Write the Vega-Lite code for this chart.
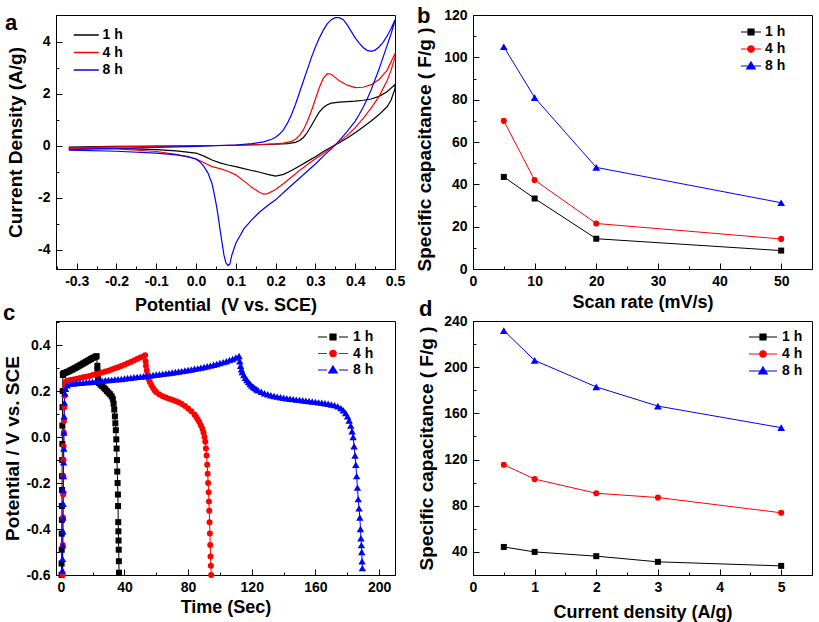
{
"$schema": "https://vega.github.io/schema/vega-lite/v6.json",
"autosize": {"type": "none"},
"padding": {"left": 56, "top": 15, "right": 763, "bottom": 607},
"background": "white",
"config": {
 "font": "Liberation Sans",
 "view": {"stroke": "#000000", "strokeWidth": 1},
 "axis": {"grid": false, "domainColor": "#000000", "domainWidth": 1, "tickColor": "#000000", "tickWidth": 1, "labelFont": "Liberation Sans", "labelFontWeight": "bold", "labelFontSize": 14, "labelColor": "#000000", "labelOverlap": false, "labelFlush": false, "titleFont": "Liberation Sans", "titleFontWeight": "bold", "titleColor": "#000000"},
 "axisX": {"titleFontSize": 18, "labelPadding": 11},
 "axisY": {"titleFontSize": 19, "labelPadding": 12},
 "legend": {"labelFont": "Liberation Sans", "labelFontWeight": "bold", "labelFontSize": 14, "labelColor": "#000000", "padding": 0, "orient": "none"},
 "title": {"font": "Liberation Sans", "fontWeight": "bold", "fontSize": 22, "color": "#000000", "anchor": "start", "frame": "group", "offset": 0, "baseline": "alphabetic"}
},
"datasets": {
 "cv": [
  {"s":"1 h","x":-0.32,"y":-0.05},{"s":"1 h","x":-0.25,"y":-0.03},{"s":"1 h","x":-0.2,"y":-0.02},{"s":"1 h","x":-0.1,"y":-0.01},{"s":"1 h","x":0,"y":0},{"s":"1 h","x":0.1,"y":0.02},{"s":"1 h","x":0.15,"y":0.04},{"s":"1 h","x":0.2,"y":0.06},{"s":"1 h","x":0.23,"y":0.08},{"s":"1 h","x":0.25,"y":0.13},{"s":"1 h","x":0.26,"y":0.2},{"s":"1 h","x":0.27,"y":0.32},{"s":"1 h","x":0.28,"y":0.52},{"s":"1 h","x":0.29,"y":0.78},{"s":"1 h","x":0.3,"y":1.05},{"s":"1 h","x":0.31,"y":1.3},{"s":"1 h","x":0.32,"y":1.47},{"s":"1 h","x":0.33,"y":1.58},{"s":"1 h","x":0.34,"y":1.64},{"s":"1 h","x":0.36,"y":1.68},{"s":"1 h","x":0.38,"y":1.7},{"s":"1 h","x":0.4,"y":1.72},{"s":"1 h","x":0.42,"y":1.75},{"s":"1 h","x":0.44,"y":1.8},{"s":"1 h","x":0.46,"y":1.9},{"s":"1 h","x":0.48,"y":2.08},{"s":"1 h","x":0.5,"y":2.35},
  {"s":"1 h","x":0.5,"y":2.2},{"s":"1 h","x":0.49,"y":1.75},{"s":"1 h","x":0.48,"y":1.5},{"s":"1 h","x":0.46,"y":1.2},{"s":"1 h","x":0.44,"y":0.95},{"s":"1 h","x":0.42,"y":0.72},{"s":"1 h","x":0.4,"y":0.5},{"s":"1 h","x":0.38,"y":0.3},{"s":"1 h","x":0.36,"y":0.12},{"s":"1 h","x":0.34,"y":-0.05},{"s":"1 h","x":0.32,"y":-0.22},{"s":"1 h","x":0.3,"y":-0.42},{"s":"1 h","x":0.28,"y":-0.6},{"s":"1 h","x":0.26,"y":-0.78},{"s":"1 h","x":0.24,"y":-0.95},{"s":"1 h","x":0.22,"y":-1.1},{"s":"1 h","x":0.2,"y":-1.17},{"s":"1 h","x":0.18,"y":-1.1},{"s":"1 h","x":0.16,"y":-1.02},{"s":"1 h","x":0.14,"y":-0.95},{"s":"1 h","x":0.12,"y":-0.88},{"s":"1 h","x":0.1,"y":-0.8},{"s":"1 h","x":0.08,"y":-0.74},{"s":"1 h","x":0.06,"y":-0.66},{"s":"1 h","x":0.04,"y":-0.55},{"s":"1 h","x":0.02,"y":-0.4},{"s":"1 h","x":0,"y":-0.28},{"s":"1 h","x":-0.05,"y":-0.2},{"s":"1 h","x":-0.1,"y":-0.15},{"s":"1 h","x":-0.2,"y":-0.1},{"s":"1 h","x":-0.32,"y":-0.08},
  {"s":"4 h","x":-0.32,"y":-0.08},{"s":"4 h","x":-0.25,"y":-0.05},{"s":"4 h","x":-0.2,"y":-0.04},{"s":"4 h","x":-0.1,"y":-0.02},{"s":"4 h","x":0,"y":0},{"s":"4 h","x":0.1,"y":0.02},{"s":"4 h","x":0.15,"y":0.04},{"s":"4 h","x":0.2,"y":0.07},{"s":"4 h","x":0.22,"y":0.1},{"s":"4 h","x":0.24,"y":0.17},{"s":"4 h","x":0.25,"y":0.25},{"s":"4 h","x":0.26,"y":0.4},{"s":"4 h","x":0.27,"y":0.62},{"s":"4 h","x":0.28,"y":0.95},{"s":"4 h","x":0.29,"y":1.35},{"s":"4 h","x":0.3,"y":1.8},{"s":"4 h","x":0.31,"y":2.25},{"s":"4 h","x":0.32,"y":2.6},{"s":"4 h","x":0.33,"y":2.77},{"s":"4 h","x":0.34,"y":2.75},{"s":"4 h","x":0.35,"y":2.62},{"s":"4 h","x":0.36,"y":2.5},{"s":"4 h","x":0.38,"y":2.33},{"s":"4 h","x":0.4,"y":2.24},{"s":"4 h","x":0.42,"y":2.25},{"s":"4 h","x":0.44,"y":2.35},{"s":"4 h","x":0.46,"y":2.55},{"s":"4 h","x":0.48,"y":2.9},{"s":"4 h","x":0.5,"y":3.55},
  {"s":"4 h","x":0.5,"y":3.4},{"s":"4 h","x":0.49,"y":2.9},{"s":"4 h","x":0.48,"y":2.5},{"s":"4 h","x":0.46,"y":1.9},{"s":"4 h","x":0.44,"y":1.45},{"s":"4 h","x":0.42,"y":1.05},{"s":"4 h","x":0.4,"y":0.7},{"s":"4 h","x":0.38,"y":0.4},{"s":"4 h","x":0.36,"y":0.15},{"s":"4 h","x":0.34,"y":-0.08},{"s":"4 h","x":0.32,"y":-0.3},{"s":"4 h","x":0.3,"y":-0.5},{"s":"4 h","x":0.28,"y":-0.72},{"s":"4 h","x":0.26,"y":-0.95},{"s":"4 h","x":0.24,"y":-1.2},{"s":"4 h","x":0.22,"y":-1.45},{"s":"4 h","x":0.2,"y":-1.68},{"s":"4 h","x":0.18,"y":-1.84},{"s":"4 h","x":0.17,"y":-1.86},{"s":"4 h","x":0.16,"y":-1.8},{"s":"4 h","x":0.14,"y":-1.6},{"s":"4 h","x":0.12,"y":-1.35},{"s":"4 h","x":0.1,"y":-1.12},{"s":"4 h","x":0.08,"y":-0.98},{"s":"4 h","x":0.06,"y":-0.88},{"s":"4 h","x":0.04,"y":-0.8},{"s":"4 h","x":0.02,"y":-0.65},{"s":"4 h","x":0,"y":-0.5},{"s":"4 h","x":-0.05,"y":-0.33},{"s":"4 h","x":-0.1,"y":-0.22},{"s":"4 h","x":-0.2,"y":-0.12},{"s":"4 h","x":-0.32,"y":-0.1},
  {"s":"8 h","x":-0.32,"y":-0.15},{"s":"8 h","x":-0.25,"y":-0.12},{"s":"8 h","x":-0.2,"y":-0.1},{"s":"8 h","x":-0.1,"y":-0.06},{"s":"8 h","x":0,"y":-0.02},{"s":"8 h","x":0.05,"y":0},{"s":"8 h","x":0.1,"y":0.03},{"s":"8 h","x":0.14,"y":0.08},{"s":"8 h","x":0.17,"y":0.15},{"s":"8 h","x":0.19,"y":0.25},{"s":"8 h","x":0.2,"y":0.33},{"s":"8 h","x":0.21,"y":0.45},{"s":"8 h","x":0.22,"y":0.62},{"s":"8 h","x":0.23,"y":0.88},{"s":"8 h","x":0.24,"y":1.2},{"s":"8 h","x":0.25,"y":1.6},{"s":"8 h","x":0.26,"y":2.05},{"s":"8 h","x":0.27,"y":2.5},{"s":"8 h","x":0.28,"y":2.95},{"s":"8 h","x":0.29,"y":3.4},{"s":"8 h","x":0.3,"y":3.8},{"s":"8 h","x":0.31,"y":4.15},{"s":"8 h","x":0.32,"y":4.45},{"s":"8 h","x":0.33,"y":4.7},{"s":"8 h","x":0.34,"y":4.85},{"s":"8 h","x":0.35,"y":4.93},{"s":"8 h","x":0.36,"y":4.93},{"s":"8 h","x":0.37,"y":4.85},{"s":"8 h","x":0.38,"y":4.65},{"s":"8 h","x":0.39,"y":4.4},{"s":"8 h","x":0.4,"y":4.15},{"s":"8 h","x":0.41,"y":3.95},{"s":"8 h","x":0.42,"y":3.78},{"s":"8 h","x":0.43,"y":3.67},{"s":"8 h","x":0.44,"y":3.63},{"s":"8 h","x":0.45,"y":3.68},{"s":"8 h","x":0.46,"y":3.8},{"s":"8 h","x":0.47,"y":3.98},{"s":"8 h","x":0.48,"y":4.22},{"s":"8 h","x":0.49,"y":4.5},{"s":"8 h","x":0.5,"y":4.85},
  {"s":"8 h","x":0.5,"y":4.8},{"s":"8 h","x":0.49,"y":4.3},{"s":"8 h","x":0.48,"y":3.85},{"s":"8 h","x":0.47,"y":3.4},{"s":"8 h","x":0.46,"y":2.95},{"s":"8 h","x":0.45,"y":2.55},{"s":"8 h","x":0.44,"y":2.15},{"s":"8 h","x":0.43,"y":1.8},{"s":"8 h","x":0.42,"y":1.48},{"s":"8 h","x":0.41,"y":1.2},{"s":"8 h","x":0.4,"y":0.95},{"s":"8 h","x":0.38,"y":0.55},{"s":"8 h","x":0.36,"y":0.2},{"s":"8 h","x":0.34,"y":-0.12},{"s":"8 h","x":0.32,"y":-0.4},{"s":"8 h","x":0.3,"y":-0.7},{"s":"8 h","x":0.28,"y":-0.97},{"s":"8 h","x":0.26,"y":-1.25},{"s":"8 h","x":0.24,"y":-1.52},{"s":"8 h","x":0.22,"y":-1.8},{"s":"8 h","x":0.2,"y":-2.08},{"s":"8 h","x":0.18,"y":-2.3},{"s":"8 h","x":0.16,"y":-2.55},{"s":"8 h","x":0.14,"y":-2.85},{"s":"8 h","x":0.12,"y":-3.2},{"s":"8 h","x":0.1,"y":-3.75},{"s":"8 h","x":0.09,"y":-4.2},{"s":"8 h","x":0.085,"y":-4.55},{"s":"8 h","x":0.08,"y":-4.6},{"s":"8 h","x":0.075,"y":-4.5},{"s":"8 h","x":0.07,"y":-4.2},{"s":"8 h","x":0.065,"y":-3.7},{"s":"8 h","x":0.06,"y":-3.2},{"s":"8 h","x":0.055,"y":-2.65},{"s":"8 h","x":0.05,"y":-2.2},{"s":"8 h","x":0.045,"y":-1.8},{"s":"8 h","x":0.04,"y":-1.45},{"s":"8 h","x":0.03,"y":-1.05},{"s":"8 h","x":0.02,"y":-0.8},{"s":"8 h","x":0.01,"y":-0.62},{"s":"8 h","x":0,"y":-0.52},{"s":"8 h","x":-0.02,"y":-0.42},{"s":"8 h","x":-0.05,"y":-0.35},{"s":"8 h","x":-0.1,"y":-0.28},{"s":"8 h","x":-0.2,"y":-0.21},{"s":"8 h","x":-0.32,"y":-0.17}
 ],
 "sb": [
  {"s":"1 h","x":5,"y":43.5},{"s":"1 h","x":10,"y":33.3},{"s":"1 h","x":20,"y":14.3},{"s":"1 h","x":50,"y":8.7},
  {"s":"4 h","x":5,"y":70},{"s":"4 h","x":10,"y":42},{"s":"4 h","x":20,"y":21.5},{"s":"4 h","x":50,"y":14.2},
  {"s":"8 h","x":5,"y":105},{"s":"8 h","x":10,"y":81},{"s":"8 h","x":20,"y":48},{"s":"8 h","x":50,"y":31.3}
 ],
 "sd": [
  {"s":"1 h","x":0.5,"y":44.3},{"s":"1 h","x":1,"y":40},{"s":"1 h","x":2,"y":36.3},{"s":"1 h","x":3,"y":31.4},{"s":"1 h","x":5,"y":27.9},
  {"s":"4 h","x":0.5,"y":115.5},{"s":"4 h","x":1,"y":103.1},{"s":"4 h","x":2,"y":90.8},{"s":"4 h","x":3,"y":87.1},{"s":"4 h","x":5,"y":73.9},
  {"s":"8 h","x":0.5,"y":231.7},{"s":"8 h","x":1,"y":205.9},{"s":"8 h","x":2,"y":182.9},{"s":"8 h","x":3,"y":166.3},{"s":"8 h","x":5,"y":147.6}
 ],
 "gcd": [
  {"s":"1 h","x":0.5,"y":-0.6},{"s":"1 h","x":0.5,"y":-0.55},{"s":"1 h","x":0.6,"y":-0.49},{"s":"1 h","x":0.6,"y":-0.42},{"s":"1 h","x":0.7,"y":-0.36},{"s":"1 h","x":0.7,"y":-0.3},{"s":"1 h","x":0.8,"y":-0.23},{"s":"1 h","x":0.8,"y":-0.17},{"s":"1 h","x":0.9,"y":-0.1},{"s":"1 h","x":1.0,"y":-0.03},{"s":"1 h","x":1.0,"y":0.05},{"s":"1 h","x":1.1,"y":0.13},{"s":"1 h","x":1.2,"y":0.2},{"s":"1 h","x":1.3,"y":0.27},
  {"s":"1 h","x":1.5,"y":0.275},{"s":"1 h","x":2,"y":0.278},{"s":"1 h","x":3,"y":0.28},{"s":"1 h","x":4,"y":0.283},{"s":"1 h","x":5,"y":0.286},{"s":"1 h","x":6,"y":0.29},{"s":"1 h","x":7,"y":0.293},{"s":"1 h","x":8,"y":0.297},{"s":"1 h","x":9,"y":0.3},{"s":"1 h","x":10,"y":0.304},{"s":"1 h","x":11,"y":0.308},{"s":"1 h","x":12,"y":0.312},{"s":"1 h","x":13,"y":0.316},{"s":"1 h","x":14,"y":0.32},{"s":"1 h","x":15,"y":0.324},{"s":"1 h","x":16,"y":0.328},{"s":"1 h","x":17,"y":0.332},{"s":"1 h","x":18,"y":0.336},{"s":"1 h","x":19,"y":0.34},{"s":"1 h","x":20,"y":0.344},{"s":"1 h","x":21,"y":0.347},{"s":"1 h","x":22,"y":0.35},{"s":"1 h","x":22.5,"y":0.352},
  {"s":"1 h","x":23,"y":0.31},{"s":"1 h","x":23,"y":0.29},{"s":"1 h","x":23.2,"y":0.27},{"s":"1 h","x":23.5,"y":0.25},
  {"s":"1 h","x":24,"y":0.235},{"s":"1 h","x":25,"y":0.228},{"s":"1 h","x":26,"y":0.222},{"s":"1 h","x":27,"y":0.215},{"s":"1 h","x":28,"y":0.208},{"s":"1 h","x":29,"y":0.2},{"s":"1 h","x":30,"y":0.193},{"s":"1 h","x":31,"y":0.186},{"s":"1 h","x":32,"y":0.177},{"s":"1 h","x":32.7,"y":0.165},{"s":"1 h","x":33.2,"y":0.145},{"s":"1 h","x":33.6,"y":0.12},{"s":"1 h","x":34,"y":0.09},{"s":"1 h","x":34.3,"y":0.06},{"s":"1 h","x":34.6,"y":0.03},{"s":"1 h","x":34.9,"y":-0.01},{"s":"1 h","x":35.1,"y":-0.05},{"s":"1 h","x":35.3,"y":-0.1},{"s":"1 h","x":35.5,"y":-0.15},{"s":"1 h","x":35.7,"y":-0.2},{"s":"1 h","x":35.9,"y":-0.25},{"s":"1 h","x":36.0,"y":-0.3},{"s":"1 h","x":36.1,"y":-0.37},{"s":"1 h","x":36.2,"y":-0.41},{"s":"1 h","x":36.3,"y":-0.45},{"s":"1 h","x":36.4,"y":-0.49},{"s":"1 h","x":36.5,"y":-0.54},{"s":"1 h","x":36.6,"y":-0.59},
  {"s":"4 h","x":1.2,"y":-0.6},{"s":"4 h","x":1.3,"y":-0.47},{"s":"4 h","x":1.4,"y":-0.35},{"s":"4 h","x":1.5,"y":-0.25},{"s":"4 h","x":1.6,"y":-0.17},{"s":"4 h","x":1.7,"y":-0.1},{"s":"4 h","x":1.8,"y":-0.04},{"s":"4 h","x":1.9,"y":0.02},{"s":"4 h","x":2.0,"y":0.07},{"s":"4 h","x":2.2,"y":0.13},{"s":"4 h","x":2.4,"y":0.18},{"s":"4 h","x":2.7,"y":0.22},{"s":"4 h","x":3,"y":0.24},
  {"s":"4 h","x":4,"y":0.245},{"s":"4 h","x":6,"y":0.248},{"s":"4 h","x":8,"y":0.251},{"s":"4 h","x":10,"y":0.254},{"s":"4 h","x":12,"y":0.257},{"s":"4 h","x":14,"y":0.26},{"s":"4 h","x":16,"y":0.263},{"s":"4 h","x":18,"y":0.266},{"s":"4 h","x":20,"y":0.27},{"s":"4 h","x":22,"y":0.273},{"s":"4 h","x":24,"y":0.277},{"s":"4 h","x":26,"y":0.281},{"s":"4 h","x":28,"y":0.285},{"s":"4 h","x":30,"y":0.289},{"s":"4 h","x":32,"y":0.294},{"s":"4 h","x":34,"y":0.299},{"s":"4 h","x":36,"y":0.304},{"s":"4 h","x":38,"y":0.309},{"s":"4 h","x":40,"y":0.315},{"s":"4 h","x":42,"y":0.321},{"s":"4 h","x":44,"y":0.327},{"s":"4 h","x":46,"y":0.333},{"s":"4 h","x":48,"y":0.34},{"s":"4 h","x":50,"y":0.346},{"s":"4 h","x":52,"y":0.352},{"s":"4 h","x":53,"y":0.356},
  {"s":"4 h","x":53.3,"y":0.33},{"s":"4 h","x":53.5,"y":0.31},{"s":"4 h","x":54,"y":0.29},{"s":"4 h","x":54.5,"y":0.27},{"s":"4 h","x":55,"y":0.255},{"s":"4 h","x":56,"y":0.24},{"s":"4 h","x":57,"y":0.225},{"s":"4 h","x":58,"y":0.213},{"s":"4 h","x":59,"y":0.203},{"s":"4 h","x":60,"y":0.195},{"s":"4 h","x":62,"y":0.185},{"s":"4 h","x":64,"y":0.178},{"s":"4 h","x":66,"y":0.172},{"s":"4 h","x":68,"y":0.167},{"s":"4 h","x":70,"y":0.162},{"s":"4 h","x":72,"y":0.157},{"s":"4 h","x":74,"y":0.151},{"s":"4 h","x":76,"y":0.144},{"s":"4 h","x":78,"y":0.135},{"s":"4 h","x":80,"y":0.124},{"s":"4 h","x":82,"y":0.112},{"s":"4 h","x":84,"y":0.098},{"s":"4 h","x":85,"y":0.088},{"s":"4 h","x":86,"y":0.078},{"s":"4 h","x":87,"y":0.066},{"s":"4 h","x":88,"y":0.052},{"s":"4 h","x":89,"y":0.036},{"s":"4 h","x":89.7,"y":0.02},{"s":"4 h","x":90.3,"y":0.0},{"s":"4 h","x":90.8,"y":-0.02},{"s":"4 h","x":91.2,"y":-0.05},{"s":"4 h","x":91.6,"y":-0.08},{"s":"4 h","x":92,"y":-0.12},{"s":"4 h","x":92.3,"y":-0.16},{"s":"4 h","x":92.6,"y":-0.2},{"s":"4 h","x":92.9,"y":-0.24},{"s":"4 h","x":93.1,"y":-0.28},{"s":"4 h","x":93.3,"y":-0.32},{"s":"4 h","x":93.5,"y":-0.37},{"s":"4 h","x":93.7,"y":-0.42},{"s":"4 h","x":93.9,"y":-0.47},{"s":"4 h","x":94.1,"y":-0.52},{"s":"4 h","x":94.3,"y":-0.56},{"s":"4 h","x":94.5,"y":-0.6},
  {"s":"8 h","x":1,"y":-0.58},{"s":"8 h","x":1.1,"y":-0.53},{"s":"8 h","x":1.2,"y":-0.47},{"s":"8 h","x":1.3,"y":-0.41},{"s":"8 h","x":1.4,"y":-0.35},{"s":"8 h","x":1.5,"y":-0.29},{"s":"8 h","x":1.6,"y":-0.23},{"s":"8 h","x":1.7,"y":-0.17},{"s":"8 h","x":1.8,"y":-0.11},{"s":"8 h","x":1.9,"y":-0.05},{"s":"8 h","x":2.0,"y":0.02},{"s":"8 h","x":2.1,"y":0.09},{"s":"8 h","x":2.3,"y":0.15},{"s":"8 h","x":2.6,"y":0.19},{"s":"8 h","x":3,"y":0.21},{"s":"8 h","x":4,"y":0.225},
  {"s":"8 h","x":6,"y":0.232},{"s":"8 h","x":8,"y":0.233},{"s":"8 h","x":10,"y":0.235},{"s":"8 h","x":12,"y":0.236},{"s":"8 h","x":14,"y":0.237},{"s":"8 h","x":16,"y":0.239},{"s":"8 h","x":18,"y":0.24},{"s":"8 h","x":20,"y":0.241},{"s":"8 h","x":22,"y":0.243},{"s":"8 h","x":24,"y":0.244},{"s":"8 h","x":26,"y":0.245},{"s":"8 h","x":28,"y":0.247},{"s":"8 h","x":30,"y":0.248},{"s":"8 h","x":32,"y":0.249},{"s":"8 h","x":34,"y":0.251},{"s":"8 h","x":36,"y":0.252},{"s":"8 h","x":38,"y":0.253},{"s":"8 h","x":40,"y":0.255},{"s":"8 h","x":42,"y":0.257},{"s":"8 h","x":44,"y":0.258},{"s":"8 h","x":46,"y":0.26},{"s":"8 h","x":48,"y":0.262},{"s":"8 h","x":50,"y":0.263},{"s":"8 h","x":52,"y":0.265},{"s":"8 h","x":54,"y":0.267},{"s":"8 h","x":56,"y":0.268},{"s":"8 h","x":58,"y":0.27},{"s":"8 h","x":60,"y":0.272},{"s":"8 h","x":62,"y":0.273},{"s":"8 h","x":64,"y":0.275},{"s":"8 h","x":66,"y":0.277},{"s":"8 h","x":68,"y":0.279},{"s":"8 h","x":70,"y":0.281},{"s":"8 h","x":72,"y":0.283},{"s":"8 h","x":74,"y":0.285},{"s":"8 h","x":76,"y":0.287},{"s":"8 h","x":78,"y":0.29},{"s":"8 h","x":80,"y":0.292},{"s":"8 h","x":82,"y":0.294},{"s":"8 h","x":84,"y":0.297},{"s":"8 h","x":86,"y":0.299},{"s":"8 h","x":88,"y":0.302},{"s":"8 h","x":90,"y":0.305},{"s":"8 h","x":92,"y":0.308},{"s":"8 h","x":94,"y":0.311},{"s":"8 h","x":96,"y":0.315},{"s":"8 h","x":98,"y":0.318},{"s":"8 h","x":100,"y":0.322},{"s":"8 h","x":102,"y":0.326},{"s":"8 h","x":104,"y":0.33},{"s":"8 h","x":106,"y":0.335},{"s":"8 h","x":108,"y":0.34},{"s":"8 h","x":110,"y":0.346},{"s":"8 h","x":112,"y":0.353},
  {"s":"8 h","x":112.5,"y":0.33},{"s":"8 h","x":113,"y":0.31},{"s":"8 h","x":113.5,"y":0.295},{"s":"8 h","x":114,"y":0.283},{"s":"8 h","x":115,"y":0.27},{"s":"8 h","x":116,"y":0.258},{"s":"8 h","x":117,"y":0.248},{"s":"8 h","x":118,"y":0.239},{"s":"8 h","x":119,"y":0.231},{"s":"8 h","x":120,"y":0.224},{"s":"8 h","x":121,"y":0.218},{"s":"8 h","x":122,"y":0.213},{"s":"8 h","x":123,"y":0.208},{"s":"8 h","x":124,"y":0.204},{"s":"8 h","x":126,"y":0.197},{"s":"8 h","x":128,"y":0.191},{"s":"8 h","x":130,"y":0.186},{"s":"8 h","x":132,"y":0.182},{"s":"8 h","x":134,"y":0.179},{"s":"8 h","x":136,"y":0.176},{"s":"8 h","x":138,"y":0.173},{"s":"8 h","x":140,"y":0.171},{"s":"8 h","x":142,"y":0.169},{"s":"8 h","x":144,"y":0.167},{"s":"8 h","x":146,"y":0.165},{"s":"8 h","x":148,"y":0.163},{"s":"8 h","x":150,"y":0.162},{"s":"8 h","x":152,"y":0.16},{"s":"8 h","x":154,"y":0.158},{"s":"8 h","x":156,"y":0.157},{"s":"8 h","x":158,"y":0.155},{"s":"8 h","x":160,"y":0.153},{"s":"8 h","x":162,"y":0.151},{"s":"8 h","x":164,"y":0.149},{"s":"8 h","x":166,"y":0.147},{"s":"8 h","x":168,"y":0.145},{"s":"8 h","x":170,"y":0.142},{"s":"8 h","x":172,"y":0.139},{"s":"8 h","x":174,"y":0.134},{"s":"8 h","x":176,"y":0.126},{"s":"8 h","x":177.5,"y":0.117},{"s":"8 h","x":179,"y":0.105},{"s":"8 h","x":180.2,"y":0.09},{"s":"8 h","x":181.2,"y":0.072},{"s":"8 h","x":182.2,"y":0.05},{"s":"8 h","x":183,"y":0.025},{"s":"8 h","x":183.7,"y":0},{"s":"8 h","x":184.3,"y":-0.04},{"s":"8 h","x":184.9,"y":-0.08},{"s":"8 h","x":185.4,"y":-0.12},{"s":"8 h","x":185.9,"y":-0.17},{"s":"8 h","x":186.4,"y":-0.22},{"s":"8 h","x":186.9,"y":-0.27},{"s":"8 h","x":187.4,"y":-0.31},{"s":"8 h","x":187.9,"y":-0.35},{"s":"8 h","x":188.3,"y":-0.4},{"s":"8 h","x":188.6,"y":-0.44},{"s":"8 h","x":188.9,"y":-0.47},{"s":"8 h","x":189.1,"y":-0.5},{"s":"8 h","x":189.3,"y":-0.54},{"s":"8 h","x":189.5,"y":-0.57}
 ]
},
"columns": 2,
"bounds": "flush",
"spacing": {"row": 52, "column": 78},
"resolve": {"scale": {"color": "independent"}, "legend": {"color": "independent"}},
"concat": [
 {
  "width": 339, "height": 254,
  "title": {"text": "a", "dx": -51, "dy": 24},
  "data": {"name": "cv"},
  "mark": {"type": "line", "strokeWidth": 1.2},
  "encoding": {
   "x": {"field": "x", "type": "quantitative", "scale": {"domain": [-0.352, 0.5], "nice": false, "zero": false},
     "axis": {"title": "Potential\u00a0 (V vs. SCE)", "titlePadding": 5,
       "values": [-0.35,-0.3,-0.25,-0.2,-0.15,-0.1,-0.05,0,0.05,0.1,0.15,0.2,0.25,0.3,0.35,0.4,0.45,0.5],
       "labelExpr": "abs(round(datum.value*100))%10===0 ? replace(format(datum.value,'.1f'),'\u2212','-') : ''",
       "tickSize": {"condition": {"test": "abs(round(datum.value*100))%10===0", "value": -6}, "value": -3}}},
   "y": {"field": "y", "type": "quantitative", "scale": {"domain": [-4.74, 5.03], "nice": false, "zero": false},
     "axis": {"title": "Current Density (A/g)", "titlePadding": 12,
       "values": [-4,-3,-2,-1,0,1,2,3,4],
       "labelExpr": "abs(datum.value)%2===0 ? replace(format(datum.value,'d'),'\u2212','-') : ''",
       "tickSize": {"condition": {"test": "abs(datum.value)%2===0", "value": -6}, "value": -3}}},
   "order": {"value": null},
   "color": {"field": "s", "type": "nominal", "scale": {"domain": ["1 h","4 h","8 h"], "range": ["#000000","#ff0000","#0000ff"]},
     "legend": {"title": null, "orient": "none", "legendX": 23.25, "legendY": 13, "symbolType": "M-2,0H2", "symbolSize": 156.25, "symbolStrokeWidth": 1.5, "labelOffset": 9.25, "rowPadding": 3.5}}
  }
 },
 {
  "width": 339, "height": 254,
  "title": {"text": "b", "dx": -56, "dy": 24},
  "data": {"name": "sb"},
  "encoding": {
   "x": {"field": "x", "type": "quantitative", "scale": {"domain": [0, 55], "nice": false},
     "axis": {"title": "Scan rate (mV/s)", "titlePadding": 2,
       "values": [0,5,10,15,20,25,30,35,40,45,50],
       "labelExpr": "datum.value%10===0 ? format(datum.value,'d') : ''",
       "tickSize": {"condition": {"test": "datum.value%10===0", "value": -6}, "value": -3}}},
   "y": {"field": "y", "type": "quantitative", "scale": {"domain": [0, 120], "nice": false},
     "axis": {"title": "Specific capacitance ( F/g )", "titlePadding": 9, "titleY": 134,
       "values": [0,10,20,30,40,50,60,70,80,90,100,110,120],
       "labelExpr": "datum.value%20===0 ? format(datum.value,'d') : ''",
       "tickSize": {"condition": {"test": "datum.value%20===0", "value": -6}, "value": -3}}},
   "color": {"field": "s", "type": "nominal", "scale": {"domain": ["1 h","4 h","8 h"], "range": ["#000000","#ff0000","#0000ff"]},
     "legend": {"title": null, "orient": "none", "legendX": 271, "legendY": 10, "symbolSize": 100, "labelOffset": 7, "rowPadding": 3,
       "encode": {"symbols": {"update": {
         "shape": {"signal": "datum.value==='1 h' ? 'M-2,0H2M-0.6,-0.6H0.6V0.6H-0.6Z' : datum.value==='4 h' ? 'M-2,0H2M0.65,0A0.65,0.65,0,1,1,-0.65,0A0.65,0.65,0,1,1,0.65,0Z' : 'M-2,0H2M0,-0.8L0.85,0.6L-0.85,0.6Z'"},
         "stroke": {"signal": "datum.value==='1 h' ? '#000000' : datum.value==='4 h' ? '#ff0000' : '#0000ff'"},
         "fill": {"signal": "datum.value==='1 h' ? '#000000' : datum.value==='4 h' ? '#ff0000' : '#0000ff'"},
         "strokeWidth": {"value": 1.2}, "opacity": {"value": 1}}}}}}
  },
  "layer": [
   {"mark": {"type": "line", "strokeWidth": 1}},
   {"transform": [{"filter": "datum.s === '1 h'"}], "mark": {"type": "point", "shape": "square", "filled": true, "opacity": 1, "size": 36}},
   {"transform": [{"filter": "datum.s === '4 h'"}], "mark": {"type": "point", "shape": "circle", "filled": true, "opacity": 1, "size": 38}},
   {"transform": [{"filter": "datum.s === '8 h'"}], "mark": {"type": "point", "shape": "triangle-up", "filled": true, "opacity": 1, "size": 60}}
  ]
 },
 {
  "width": 339, "height": 254,
  "title": {"text": "c", "dx": -53, "dy": 14},
  "data": {"name": "gcd"},
  "encoding": {
   "x": {"field": "x", "type": "quantitative", "scale": {"domain": [-3, 210], "nice": false, "zero": false},
     "axis": {"title": "Time (Sec)", "titlePadding": 1,
       "values": [0,20,40,60,80,100,120,140,160,180,200],
       "labelExpr": "datum.value%40===0 ? format(datum.value,'d') : ''",
       "tickSize": {"condition": {"test": "datum.value%40===0", "value": -6}, "value": -3}}},
   "y": {"field": "y", "type": "quantitative", "scale": {"domain": [-0.6, 0.505], "nice": false, "zero": false},
     "axis": {"title": "Potential / V vs. SCE", "titlePadding": 3,
       "values": [-0.6,-0.5,-0.4,-0.3,-0.2,-0.1,0,0.1,0.2,0.3,0.4,0.5],
       "labelExpr": "abs(round(datum.value*10))%2===0 && datum.value < 0.45 ? replace(format(datum.value,'.1f'),'\u2212','-') : ''",
       "tickSize": {"condition": {"test": "abs(round(datum.value*10))%2===0", "value": -6}, "value": -3}}},
   "color": {"field": "s", "type": "nominal", "scale": {"domain": ["1 h","4 h","8 h"], "range": ["#000000","#ff0000","#0000ff"]},
     "legend": {"title": null, "orient": "none", "legendX": 270, "legendY": 9, "symbolSize": 100, "labelOffset": 13, "rowPadding": 2.5,
       "encode": {"symbols": {"update": {
         "shape": {"signal": "datum.value==='1 h' ? 'M-3,0H-1.2M1.2,0H3M-0.6,-0.6H0.6V0.6H-0.6Z' : datum.value==='4 h' ? 'M-3,0H-1.2M1.2,0H3M0.65,0A0.65,0.65,0,1,1,-0.65,0A0.65,0.65,0,1,1,0.65,0Z' : 'M-3,0H-1.2M1.2,0H3M0,-0.8L0.85,0.6L-0.85,0.6Z'"},
         "stroke": {"signal": "datum.value==='1 h' ? '#000000' : datum.value==='4 h' ? '#ff0000' : '#0000ff'"},
         "fill": {"signal": "datum.value==='1 h' ? '#000000' : datum.value==='4 h' ? '#ff0000' : '#0000ff'"},
         "strokeWidth": {"value": 1.2}, "opacity": {"value": 1}}}}}},
   "order": {"value": null}
  },
  "layer": [
   {"mark": {"type": "line", "strokeWidth": 1}},
   {"transform": [{"filter": "datum.s === '1 h'"}], "mark": {"type": "point", "shape": "square", "filled": true, "opacity": 1, "size": 36}},
   {"transform": [{"filter": "datum.s === '4 h'"}], "mark": {"type": "point", "shape": "circle", "filled": true, "opacity": 1, "size": 36}},
   {"transform": [{"filter": "datum.s === '8 h'"}], "mark": {"type": "point", "shape": "triangle-up", "filled": true, "opacity": 1, "size": 55}}
  ]
 },
 {
  "width": 339, "height": 254,
  "title": {"text": "d", "dx": -54, "dy": 11},
  "data": {"name": "sd"},
  "encoding": {
   "x": {"field": "x", "type": "quantitative", "scale": {"domain": [0, 5.5], "nice": false},
     "axis": {"title": "Current density (A/g)", "titlePadding": 6,
       "values": [0,0.5,1,1.5,2,2.5,3,3.5,4,4.5,5],
       "labelExpr": "round(datum.value*10)%10===0 ? format(datum.value,'d') : ''",
       "tickSize": {"condition": {"test": "round(datum.value*10)%10===0", "value": -6}, "value": -3}}},
   "y": {"field": "y", "type": "quantitative", "scale": {"domain": [20, 240], "nice": false, "zero": false},
     "axis": {"title": "Specific capacitance ( F/g )", "titlePadding": 7,
       "values": [40,60,80,100,120,140,160,180,200,220,240],
       "labelExpr": "datum.value%40===0 ? format(datum.value,'d') : ''",
       "tickSize": {"condition": {"test": "datum.value%40===0", "value": -6}, "value": -3}}},
   "color": {"field": "s", "type": "nominal", "scale": {"domain": ["1 h","4 h","8 h"], "range": ["#000000","#ff0000","#0000ff"]},
     "legend": {"title": null, "orient": "none", "legendX": 283, "legendY": 9, "symbolSize": 100, "labelOffset": 12, "rowPadding": 3,
       "encode": {"symbols": {"update": {
         "shape": {"signal": "datum.value==='1 h' ? 'M-2.8,0H2.8M-0.6,-0.6H0.6V0.6H-0.6Z' : datum.value==='4 h' ? 'M-2.8,0H2.8M0.65,0A0.65,0.65,0,1,1,-0.65,0A0.65,0.65,0,1,1,0.65,0Z' : 'M-2.8,0H2.8M0,-0.8L0.85,0.6L-0.85,0.6Z'"},
         "stroke": {"signal": "datum.value==='1 h' ? '#000000' : datum.value==='4 h' ? '#ff0000' : '#0000ff'"},
         "fill": {"signal": "datum.value==='1 h' ? '#000000' : datum.value==='4 h' ? '#ff0000' : '#0000ff'"},
         "strokeWidth": {"value": 1.2}, "opacity": {"value": 1}}}}}}
  },
  "layer": [
   {"mark": {"type": "line", "strokeWidth": 1}},
   {"transform": [{"filter": "datum.s === '1 h'"}], "mark": {"type": "point", "shape": "square", "filled": true, "opacity": 1, "size": 36}},
   {"transform": [{"filter": "datum.s === '4 h'"}], "mark": {"type": "point", "shape": "circle", "filled": true, "opacity": 1, "size": 38}},
   {"transform": [{"filter": "datum.s === '8 h'"}], "mark": {"type": "point", "shape": "triangle-up", "filled": true, "opacity": 1, "size": 60}}
  ]
 }
]
}
